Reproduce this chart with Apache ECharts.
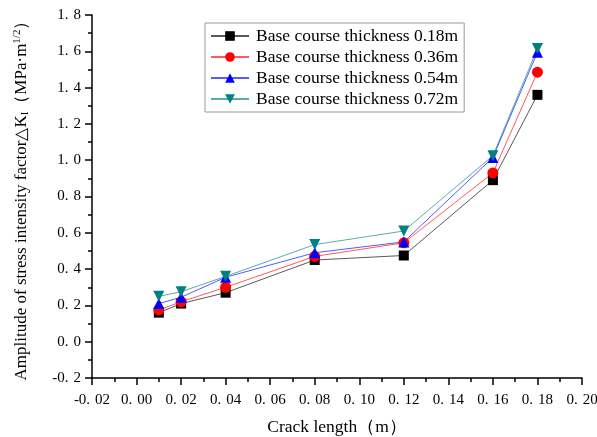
<!DOCTYPE html>
<html>
<head>
<meta charset="utf-8">
<script src="https://cdn.jsdelivr.net/npm/echarts@6/dist/echarts.min.js"></script>
<style>
  html, body { margin: 0; padding: 0; background: #fff; }
  #chart { width: 597px; height: 437px; }
</style>
</head>
<body>
<div id="chart"></div>
<script>
// Crack lengths (m)
const crackLength = [0.01, 0.02, 0.04, 0.08, 0.12, 0.16, 0.18];

// Amplitude of stress intensity factor for each base course thickness
const thick018 = [0.16, 0.21, 0.27, 0.45, 0.475, 0.89, 1.36];
const thick036 = [0.175, 0.22, 0.30, 0.47, 0.545, 0.93, 1.485];
const thick054 = [0.21, 0.245, 0.355, 0.49, 0.55, 1.015, 1.595];
const thick072 = [0.25, 0.275, 0.36, 0.535, 0.61, 1.025, 1.615];

const seriesNames = [
  'Base course thickness 0.18m',
  'Base course thickness 0.36m',
  'Base course thickness 0.54m',
  'Base course thickness 0.72m'
];

const FONT = '"Liberation Serif", "Times New Roman", serif';

function pairs(ys) {
  return crackLength.map((x, i) => [x, ys[i]]);
}

// tick labels keep a gap after the decimal point
function spaced(str) {
  const parts = str.split('.');
  return '{i|' + parts[0] + '.}{f|' + parts[1] + '}';
}

const tickRich = {
  i: { fontFamily: FONT, fontSize: 15, color: '#000' },
  f: { fontFamily: FONT, fontSize: 15, color: '#000', padding: [0, 0, 0, 5] }
};

const chart = echarts.init(document.getElementById('chart'));

const makeSeries = (name, data, color, symbol, rotate, size) => ({
  name: name,
  type: 'line',
  data: pairs(data),
  symbol: symbol,
  symbolSize: size,
  symbolRotate: rotate,
  showAllSymbol: true,
  itemStyle: { color: color },
  lineStyle: { color: color, width: 1, opacity: 0.65 },
  emphasis: { disabled: true },
  animation: false
});

chart.setOption({
  animation: false,
  backgroundColor: '#ffffff',
  grid: { left: 92, right: 15, top: 15, bottom: 59, containLabel: false, outerBoundsMode: 'none' },
  legend: {
    orient: 'vertical',
    left: 205,
    top: 23,
    padding: [4, 6, 4, 5],
    itemGap: 3,
    itemWidth: 38,
    itemHeight: 12,
    backgroundColor: '#ffffff',
    borderColor: '#9a9a9a',
    borderWidth: 1,
    borderRadius: 0,
    textStyle: { fontFamily: FONT, fontSize: 17.5, color: '#000', padding: [0, 0, 0, 2] },
    data: seriesNames
  },
  xAxis: {
    type: 'value',
    min: -0.02,
    max: 0.20,
    interval: 0.02,
    name: 'Crack length（m）',
    nameLocation: 'middle',
    nameGap: 40,
    nameTextStyle: { fontFamily: FONT, fontSize: 17.5, color: '#000' },
    axisLine: { show: true, onZero: false, lineStyle: { color: '#000', width: 1.5 } },
    axisTick: { show: true, length: 7, lineStyle: { color: '#000', width: 1.5 } },
    minorTick: { show: true, splitNumber: 2, length: 4, lineStyle: { color: '#000', width: 1.5 } },
    splitLine: { show: false },
    axisLabel: {
      fontFamily: FONT, fontSize: 15, color: '#000', margin: 15,
      showMinLabel: true, showMaxLabel: true,
      rich: tickRich,
      formatter: v => spaced(v.toFixed(2))
    }
  },
  yAxis: {
    type: 'value',
    min: -0.2,
    max: 1.8,
    interval: 0.2,
    name: 'Amplitude of stress intensity factor△K{sub|I}（MPa·m{sup|1/2}）',
    nameLocation: 'middle',
    nameRotate: 90,
    nameGap: 61,
    nameTextStyle: {
      fontFamily: FONT, fontSize: 17, color: '#000',
      rich: {
        sub: { fontFamily: FONT, fontSize: 11, color: '#000', verticalAlign: 'bottom', padding: [8, 0, 0, 0] },
        sup: { fontFamily: FONT, fontSize: 11, color: '#000', verticalAlign: 'top', padding: [0, 0, 8, 0] }
      }
    },
    axisLine: { show: true, onZero: false, lineStyle: { color: '#000', width: 1.5 } },
    axisTick: { show: true, length: 7, lineStyle: { color: '#000', width: 1.5 } },
    minorTick: { show: true, splitNumber: 2, length: 4, lineStyle: { color: '#000', width: 1.5 } },
    splitLine: { show: false },
    axisLabel: {
      fontFamily: FONT, fontSize: 15, color: '#000', margin: 11,
      rich: tickRich,
      formatter: v => spaced(v.toFixed(1))
    }
  },
  series: [
    makeSeries(seriesNames[0], thick018, '#000000', 'rect', 0, 10),
    makeSeries(seriesNames[1], thick036, '#ff0000', 'circle', 0, 11),
    makeSeries(seriesNames[2], thick054, '#0000ff', 'triangle', 0, 11),
    makeSeries(seriesNames[3], thick072, '#008080', 'triangle', 180, 11)
  ]
});
</script>
</body>
</html>
